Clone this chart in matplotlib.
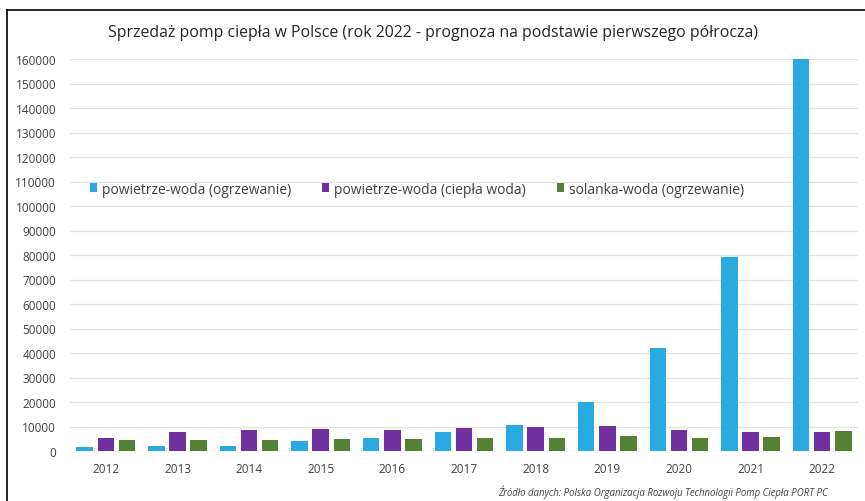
import numpy as np
import matplotlib.pyplot as plt
from matplotlib.lines import Line2D

plt.rcParams['font.family'] = ['Open Sans', 'DejaVu Sans']

# Data
years = ["2012", "2013", "2014", "2015", "2016", "2017", "2018", "2019", "2020", "2021", "2022"]
pw_heating = [1500, 2200, 2200, 4100, 5300, 7900, 10600, 20100, 42000, 79200, 160000]
pw_hot_water = [5400, 7900, 8600, 9000, 8600, 9400, 9800, 10300, 8550, 7600, 7600]
brine_heating = [4600, 4600, 4600, 4900, 4900, 5300, 5300, 6250, 5300, 5600, 8000]

labels = ["powietrze-woda (ogrzewanie)", "powietrze-woda (ciepła woda)", "solanka-woda (ogrzewanie)"]
colors = ["#29abe2", "#7030a0", "#548235"]

fig = plt.figure(figsize=(8.65, 5.02), dpi=100)
ax = fig.add_axes([70 / 865, 1 - 452 / 502, 788 / 865, 392 / 502])

x = np.arange(len(years))
w = 0.23
off = 0.295
ax.bar(x - off, pw_heating, w, color=colors[0], label=labels[0], zorder=3)
ax.bar(x, pw_hot_water, w, color=colors[1], label=labels[1], zorder=3)
ax.bar(x + off, brine_heating, w, color=colors[2], label=labels[2], zorder=3)

ax.set_xlim(-0.5, len(years) - 0.5)
ax.set_ylim(0, 160000)
ax.set_yticks(np.arange(0, 160001, 10000))
ax.set_xticks(x)
ax.set_xticklabels(years)
ax.yaxis.grid(True, color="#e3e3e3", linewidth=0.9, zorder=0)
for s in ax.spines.values():
    s.set_visible(False)
ax.tick_params(length=0, labelsize=8.5, labelcolor="#404040")
ax.tick_params(axis="x", pad=8)
ax.tick_params(axis="y", pad=10)

fig.text(0.5, 1 - 33 / 502, "Sprzedaż pomp ciepła w Polsce (rok 2022 - prognoza na podstawie pierwszego półrocza)",
         ha="center", va="center", fontsize=11.4, color="#262626")

ax.legend(loc="center left", bbox_to_anchor=(77 / 865, 1 - 190 / 502), bbox_transform=fig.transFigure,
          ncol=3, frameon=False, fontsize=10, handlelength=0.55, handleheight=0.55, handletextpad=0.35,
          columnspacing=2.2, labelcolor="#404040")

fig.text(828 / 865, 1 - 492 / 502,
         "Źródło danych: Polska Organizacja Rozwoju Technologii Pomp Ciepła PORT PC",
         ha="right", va="center", fontsize=6.9, style="italic", color="#404040")

# outer frame (left and top edges)
fig.add_artist(Line2D([7 / 865, 7 / 865], [0, 1 - 11 / 502], color="black", linewidth=1.2))
fig.add_artist(Line2D([7 / 865, 1], [1 - 11 / 502, 1 - 11 / 502], color="black", linewidth=1.2))

plt.savefig("out.png", dpi=100)
